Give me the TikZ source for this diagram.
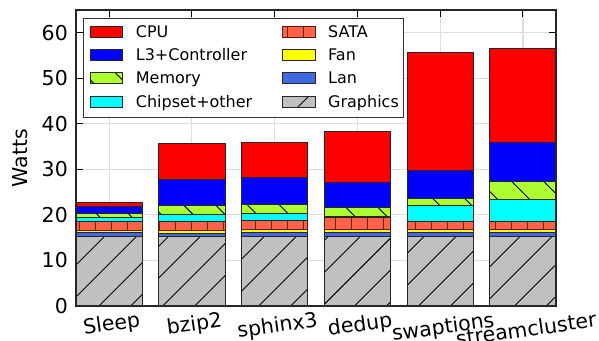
\documentclass[tikz,border=0pt]{standalone}
\usepackage{fontspec}
\setmainfont{DejaVu Sans}
\usetikzlibrary{patterns.meta}

\definecolor{cpucol}{RGB}{255,0,0}
\definecolor{lthreecol}{RGB}{0,0,255}
\definecolor{memcol}{RGB}{173,255,47}
\definecolor{chipcol}{RGB}{0,255,255}
\definecolor{satacol}{RGB}{255,99,71}
\definecolor{satadark}{RGB}{105,35,25}
\definecolor{fancol}{RGB}{255,255,0}
\definecolor{lancol}{RGB}{65,105,225}
\definecolor{gfxcol}{RGB}{192,192,192}

\tikzset{
	seg/.style={draw=black!85, line width=0.9pt},
	cpuseg/.style={seg, fill=cpucol},
	lthreeseg/.style={seg, fill=lthreecol},
	memseg/.style={seg, preaction={fill=memcol},
		pattern={Lines[angle=-45,distance=22.6pt,line width=0.9pt]}, pattern color=black},
	chipseg/.style={seg, fill=chipcol},
	sataseg/.style={seg, draw=satadark!80!black, preaction={fill=satacol},
		pattern={Lines[angle=90,distance=16pt,line width=1pt]}, pattern color=satadark},
	fanseg/.style={seg, fill=fancol},
	lanseg/.style={seg, fill=lancol},
	gfxseg/.style={seg, preaction={fill=gfxcol},
		pattern={Lines[angle=45,distance=22.6pt,line width=0.9pt]}, pattern color=black},
	gridline/.style={black!13, line width=1.2pt},
	tickmark/.style={black, line width=1pt},
	frame/.style={black!85, line width=1.3pt},
	ticklbl/.style={inner sep=0pt, font=\fontsize{20.5}{24}\selectfont},
	legtxt/.style={inner sep=0pt, anchor=base west, font=\fontsize{16}{19}\selectfont},
}

\begin{document}
\begin{tikzpicture}[x=82.76pt, y=4.554pt]
	\useasboundingbox (-1.3183,-7.686) rectangle (5.9196,67.19);
%	\draw[gray!40] (-0.4,0) grid (5.4,65);

	% grid
	\foreach \i in {0,...,5}
		\draw[gridline] (\i,0) -- (\i,65);
	\foreach \v in {10,20,...,60}
		\draw[gridline] (-0.4,\v) -- (5.4,\v);

	% ticks, inward on all sides
	\foreach \v in {10,20,...,60}
		\draw[tickmark] (-0.4,\v) -- ++(7pt,0)
			(5.4,\v) -- ++(-7pt,0);
	\foreach \i in {0,...,5}
		\draw[tickmark] (\i,65) -- ++(0,-7pt)
			(\i,0) -- ++(0,7pt);

	% stacked bars: Graphics, Lan, Fan, SATA, Chipset, Memory, L3, CPU
	\foreach \i/\g/\l/\f/\s/\c/\m/\t/\p in {
			0/15.2/16.1/16.6/18.5/19.4/20.4/21.9/22.7,
			1/15.2/15.9/16.6/18.5/20.2/22.0/27.8/35.6,
			2/15.3/16.1/16.8/18.7/20.3/22.4/28.2/35.8,
			3/15.3/16.1/16.9/19.4/19.7/21.6/27.1/38.4,
			4/15.3/16.1/16.8/18.5/22.1/23.7/29.8/55.6,
			5/15.3/16.1/16.8/18.5/23.3/27.4/35.8/56.5}
	{
		\draw[gfxseg] (\i-0.4,0) rectangle (\i+0.4,\g);
		\draw[lanseg] (\i-0.4,\g) rectangle (\i+0.4,\l);
		\draw[fanseg] (\i-0.4,\l) rectangle (\i+0.4,\f);
		\draw[sataseg] (\i-0.4,\f) rectangle (\i+0.4,\s);
		\draw[chipseg] (\i-0.4,\s) rectangle (\i+0.4,\c);
		\draw[memseg] (\i-0.4,\c) rectangle (\i+0.4,\m);
		\draw[lthreeseg] (\i-0.4,\m) rectangle (\i+0.4,\t);
		\draw[cpuseg] (\i-0.4,\t) rectangle (\i+0.4,\p);
	}

	\draw[frame] (-0.4,0) rectangle (5.4,65);

	% axis labels
	\foreach \v in {0,10,...,60}
		\node[ticklbl, anchor=east, xshift=-8pt] (yl\v) at (-0.4,\v) {\v};
	\foreach \i/\name/\dy in {0/Sleep/9, 1/bzip2/9, 2/sphinx3/10.8,
			3/dedup/9.6, 4/swaptions/12.3, 5/streamcluster/15.1}
		\node[ticklbl, anchor=north, rotate=8, yshift=-\dy pt] (xl\i) at (\i,0) {\name};
	\node[ticklbl, rotate=90] (ylabel) at (-1.077,32.5) {Watts};

	% legend
	\begin{scope}[shift={(-0.3154,63.24)}, x=1pt, y=-1pt]
		\draw[fill=white, draw=black!80, line width=0.8pt] (0,0) rectangle (320,99);
		\draw[cpuseg] (7,8.2) rectangle (39,19.2);
		\draw[lthreeseg] (7,31.5) rectangle (39,42.5);
		\draw[memseg] (7,54.8) rectangle (39,65.8);
		\draw[chipseg] (7,78.1) rectangle (39,89.1);
		\draw[sataseg] (199,8.2) rectangle (232,19.2);
		\draw[fanseg] (199,31.5) rectangle (232,42.5);
		\draw[lanseg] (199,54.8) rectangle (232,65.8);
		\draw[gfxseg] (199,78.1) rectangle (232,89.1);
		\node[legtxt] (lcpu) at (52.7,19.4) {CPU};
		\node[legtxt] (llthree) at (52.7,42.7) {L3+Controller};
		\node[legtxt] (lmem) at (52.7,66.0) {Memory};
		\node[legtxt] (lchip) at (52.7,89.3) {Chipset+other};
		\node[legtxt] (lsata) at (245,19.4) {SATA};
		\node[legtxt] (lfan) at (245,42.7) {Fan};
		\node[legtxt] (llan) at (245,66.0) {Lan};
		\node[legtxt] (lgfx) at (245,89.3) {Graphics};
	\end{scope}
\end{tikzpicture}
\end{document}
